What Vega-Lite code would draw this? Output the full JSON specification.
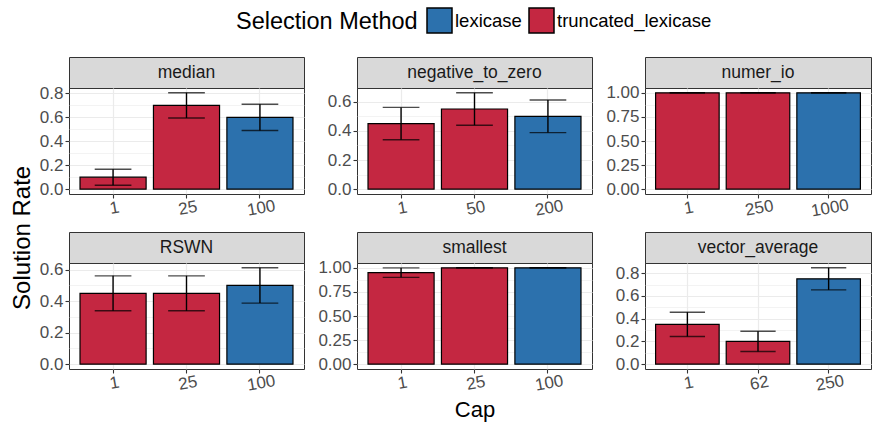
{
"$schema": "https://vega.github.io/schema/vega-lite/v6.json",
"padding": {"left": 10, "top": 7, "right": 1, "bottom": 2},
"title": {"text": "Solution Rate", "orient": "left", "anchor": "middle", "fontSize": 24, "fontWeight": "normal", "color": "black", "offset": 4, "dx": -24},
"datasets": {"d": [
{"problem":"median","cap":1,"method":"truncated_lexicase","rate":0.1,"low":0.033,"high":0.167},
{"problem":"median","cap":25,"method":"truncated_lexicase","rate":0.7,"low":0.595,"high":0.805},
{"problem":"median","cap":100,"method":"lexicase","rate":0.6,"low":0.49,"high":0.71},
{"problem":"negative_to_zero","cap":1,"method":"truncated_lexicase","rate":0.45,"low":0.339,"high":0.561},
{"problem":"negative_to_zero","cap":50,"method":"truncated_lexicase","rate":0.55,"low":0.439,"high":0.661},
{"problem":"negative_to_zero","cap":200,"method":"lexicase","rate":0.5,"low":0.388,"high":0.612},
{"problem":"numer_io","cap":1,"method":"truncated_lexicase","rate":1,"low":1,"high":1},
{"problem":"numer_io","cap":250,"method":"truncated_lexicase","rate":1,"low":1,"high":1},
{"problem":"numer_io","cap":1000,"method":"lexicase","rate":1,"low":1,"high":1},
{"problem":"RSWN","cap":1,"method":"truncated_lexicase","rate":0.45,"low":0.339,"high":0.561},
{"problem":"RSWN","cap":25,"method":"truncated_lexicase","rate":0.45,"low":0.339,"high":0.561},
{"problem":"RSWN","cap":100,"method":"lexicase","rate":0.5,"low":0.388,"high":0.612},
{"problem":"smallest","cap":1,"method":"truncated_lexicase","rate":0.95,"low":0.901,"high":0.999},
{"problem":"smallest","cap":25,"method":"truncated_lexicase","rate":1,"low":1,"high":1},
{"problem":"smallest","cap":100,"method":"lexicase","rate":1,"low":1,"high":1},
{"problem":"vector_average","cap":1,"method":"truncated_lexicase","rate":0.35,"low":0.243,"high":0.457},
{"problem":"vector_average","cap":62,"method":"truncated_lexicase","rate":0.2,"low":0.111,"high":0.289},
{"problem":"vector_average","cap":250,"method":"lexicase","rate":0.75,"low":0.653,"high":0.847}
]},
"spacing": 11,
"vconcat": [
{"hconcat": [
 {"spacing": 0, "bounds": "flush", "vconcat": [
  {"width": 235, "height": 31, "view": {"fill": "#d9d9d9", "stroke": "#333333"}, "data": {"name": "d"},
   "transform": [{"filter": "datum.problem == 'median'"}, {"aggregate": [{"op": "count", "as": "n"}], "groupby": ["problem"]}],
   "mark": {"type": "text", "fontSize": 17.5, "color": "#1a1a1a"}, "encoding": {"text": {"field": "problem"}}},
  {"width": 235, "height": 106, "data": {"name": "d"}, "transform": [{"filter": "datum.problem == 'median'"}],
   "resolve": {"axis": {"y": "independent"}},
   "encoding": {"x": {"field": "cap", "type": "ordinal", "scale": {"paddingInner": 0.1, "paddingOuter": 0.15}, "axis": {"title": null, "labelAngle": -10, "labelAlign": "center", "labelBaseline": "top", "labelOverlap": false, "grid": true, "bandPosition": 0.5}}},
   "layer": [
    {"mark": {"type": "bar", "stroke": "black", "strokeWidth": 1.2},
     "encoding": {"y": {"field": "rate", "type": "quantitative", "scale": {"domain": [-0.04025, 0.84525], "nice": false}, "axis": {"title": null, "values": [0,0.2,0.4,0.6,0.8], "format": ".1f"}},
      "y2": {"datum": 0},
      "color": {"field": "method", "type": "nominal", "title": "Selection Method", "scale": {"domain": ["lexicase", "truncated_lexicase"], "range": ["#2c71ad", "#c42741"]}}}},
    {"mark": {"type": "rule", "color": "black", "strokeWidth": 1.4}, "encoding": {"y": {"field": "low", "type": "quantitative", "scale": {"domain": [-0.04025, 0.84525], "nice": false}, "axis": {"title": null, "orient": "right", "values": [0.1,0.3,0.5,0.7], "labels": false, "ticks": false, "domain": false, "grid": true, "gridWidth": 0.6}}, "y2": {"field": "high"}}},
    {"mark": {"type": "tick", "color": "black", "thickness": 1.4, "size": 36.7}, "encoding": {"y": {"field": "low", "type": "quantitative", "scale": {"domain": [-0.04025, 0.84525], "nice": false}, "axis": null}}},
    {"mark": {"type": "tick", "color": "black", "thickness": 1.4, "size": 36.7}, "encoding": {"y": {"field": "high", "type": "quantitative", "scale": {"domain": [-0.04025, 0.84525], "nice": false}, "axis": null}}}
   ]}
 ]},
 {"spacing": 0, "bounds": "flush", "vconcat": [
  {"width": 235, "height": 31, "view": {"fill": "#d9d9d9", "stroke": "#333333"}, "data": {"name": "d"},
   "transform": [{"filter": "datum.problem == 'negative_to_zero'"}, {"aggregate": [{"op": "count", "as": "n"}], "groupby": ["problem"]}],
   "mark": {"type": "text", "fontSize": 17.5, "color": "#1a1a1a"}, "encoding": {"text": {"field": "problem"}}},
  {"width": 235, "height": 106, "data": {"name": "d"}, "transform": [{"filter": "datum.problem == 'negative_to_zero'"}],
   "resolve": {"axis": {"y": "independent"}},
   "encoding": {"x": {"field": "cap", "type": "ordinal", "scale": {"paddingInner": 0.1, "paddingOuter": 0.15}, "axis": {"title": null, "labelAngle": -10, "labelAlign": "center", "labelBaseline": "top", "labelOverlap": false, "grid": true, "bandPosition": 0.5}}},
   "layer": [
    {"mark": {"type": "bar", "stroke": "black", "strokeWidth": 1.2},
     "encoding": {"y": {"field": "rate", "type": "quantitative", "scale": {"domain": [-0.03305, 0.69405], "nice": false}, "axis": {"title": null, "minExtent": 40, "values": [0,0.2,0.4,0.6], "format": ".1f"}},
      "y2": {"datum": 0},
      "color": {"field": "method", "type": "nominal", "title": "Selection Method", "scale": {"domain": ["lexicase", "truncated_lexicase"], "range": ["#2c71ad", "#c42741"]}}}},
    {"mark": {"type": "rule", "color": "black", "strokeWidth": 1.4}, "encoding": {"y": {"field": "low", "type": "quantitative", "scale": {"domain": [-0.03305, 0.69405], "nice": false}, "axis": {"title": null, "orient": "right", "values": [0.1,0.3,0.5], "labels": false, "ticks": false, "domain": false, "grid": true, "gridWidth": 0.6}}, "y2": {"field": "high"}}},
    {"mark": {"type": "tick", "color": "black", "thickness": 1.4, "size": 36.7}, "encoding": {"y": {"field": "low", "type": "quantitative", "scale": {"domain": [-0.03305, 0.69405], "nice": false}, "axis": null}}},
    {"mark": {"type": "tick", "color": "black", "thickness": 1.4, "size": 36.7}, "encoding": {"y": {"field": "high", "type": "quantitative", "scale": {"domain": [-0.03305, 0.69405], "nice": false}, "axis": null}}}
   ]}
 ]},
 {"spacing": 0, "bounds": "flush", "vconcat": [
  {"width": 226, "height": 31, "view": {"fill": "#d9d9d9", "stroke": "#333333"}, "data": {"name": "d"},
   "transform": [{"filter": "datum.problem == 'numer_io'"}, {"aggregate": [{"op": "count", "as": "n"}], "groupby": ["problem"]}],
   "mark": {"type": "text", "fontSize": 17.5, "color": "#1a1a1a"}, "encoding": {"text": {"field": "problem"}}},
  {"width": 226, "height": 106, "data": {"name": "d"}, "transform": [{"filter": "datum.problem == 'numer_io'"}],
   "resolve": {"axis": {"y": "independent"}},
   "encoding": {"x": {"field": "cap", "type": "ordinal", "scale": {"paddingInner": 0.1, "paddingOuter": 0.15}, "axis": {"title": null, "labelAngle": -10, "labelAlign": "center", "labelBaseline": "top", "labelOverlap": false, "grid": true, "bandPosition": 0.5}}},
   "layer": [
    {"mark": {"type": "bar", "stroke": "black", "strokeWidth": 1.2},
     "encoding": {"y": {"field": "rate", "type": "quantitative", "scale": {"domain": [-0.05, 1.05], "nice": false}, "axis": {"title": null, "minExtent": 40, "values": [0,0.25,0.5,0.75,1], "format": ".2f"}},
      "y2": {"datum": 0},
      "color": {"field": "method", "type": "nominal", "title": "Selection Method", "scale": {"domain": ["lexicase", "truncated_lexicase"], "range": ["#2c71ad", "#c42741"]}}}},
    {"mark": {"type": "rule", "color": "black", "strokeWidth": 1.4}, "encoding": {"y": {"field": "low", "type": "quantitative", "scale": {"domain": [-0.05, 1.05], "nice": false}, "axis": {"title": null, "orient": "right", "values": [0.125,0.375,0.625,0.875], "labels": false, "ticks": false, "domain": false, "grid": true, "gridWidth": 0.6}}, "y2": {"field": "high"}}},
    {"mark": {"type": "tick", "color": "black", "thickness": 1.4, "size": 35.3}, "encoding": {"y": {"field": "low", "type": "quantitative", "scale": {"domain": [-0.05, 1.05], "nice": false}, "axis": null}}},
    {"mark": {"type": "tick", "color": "black", "thickness": 1.4, "size": 35.3}, "encoding": {"y": {"field": "high", "type": "quantitative", "scale": {"domain": [-0.05, 1.05], "nice": false}, "axis": null}}}
   ]}
 ]}
], "spacing": 11},
{"hconcat": [
 {"spacing": 0, "bounds": "flush", "vconcat": [
  {"width": 235, "height": 31, "view": {"fill": "#d9d9d9", "stroke": "#333333"}, "data": {"name": "d"},
   "transform": [{"filter": "datum.problem == 'RSWN'"}, {"aggregate": [{"op": "count", "as": "n"}], "groupby": ["problem"]}],
   "mark": {"type": "text", "fontSize": 17.5, "color": "#1a1a1a"}, "encoding": {"text": {"field": "problem"}}},
  {"width": 235, "height": 106, "data": {"name": "d"}, "transform": [{"filter": "datum.problem == 'RSWN'"}],
   "resolve": {"axis": {"y": "independent"}},
   "encoding": {"x": {"field": "cap", "type": "ordinal", "scale": {"paddingInner": 0.1, "paddingOuter": 0.15}, "axis": {"title": null, "labelAngle": -10, "labelAlign": "center", "labelBaseline": "top", "labelOverlap": false, "grid": true, "bandPosition": 0.5}}},
   "layer": [
    {"mark": {"type": "bar", "stroke": "black", "strokeWidth": 1.2},
     "encoding": {"y": {"field": "rate", "type": "quantitative", "scale": {"domain": [-0.0306, 0.6426], "nice": false}, "axis": {"title": null, "values": [0,0.2,0.4,0.6], "format": ".1f"}},
      "y2": {"datum": 0},
      "color": {"field": "method", "type": "nominal", "title": "Selection Method", "scale": {"domain": ["lexicase", "truncated_lexicase"], "range": ["#2c71ad", "#c42741"]}}}},
    {"mark": {"type": "rule", "color": "black", "strokeWidth": 1.4}, "encoding": {"y": {"field": "low", "type": "quantitative", "scale": {"domain": [-0.0306, 0.6426], "nice": false}, "axis": {"title": null, "orient": "right", "values": [0.1,0.3,0.5], "labels": false, "ticks": false, "domain": false, "grid": true, "gridWidth": 0.6}}, "y2": {"field": "high"}}},
    {"mark": {"type": "tick", "color": "black", "thickness": 1.4, "size": 36.7}, "encoding": {"y": {"field": "low", "type": "quantitative", "scale": {"domain": [-0.0306, 0.6426], "nice": false}, "axis": null}}},
    {"mark": {"type": "tick", "color": "black", "thickness": 1.4, "size": 36.7}, "encoding": {"y": {"field": "high", "type": "quantitative", "scale": {"domain": [-0.0306, 0.6426], "nice": false}, "axis": null}}}
   ]}
 ]},
 {"spacing": 0, "bounds": "flush", "vconcat": [
  {"width": 235, "height": 31, "view": {"fill": "#d9d9d9", "stroke": "#333333"}, "data": {"name": "d"},
   "transform": [{"filter": "datum.problem == 'smallest'"}, {"aggregate": [{"op": "count", "as": "n"}], "groupby": ["problem"]}],
   "mark": {"type": "text", "fontSize": 17.5, "color": "#1a1a1a"}, "encoding": {"text": {"field": "problem"}}},
  {"width": 235, "height": 106, "data": {"name": "d"}, "transform": [{"filter": "datum.problem == 'smallest'"}],
   "resolve": {"axis": {"y": "independent"}},
   "encoding": {"x": {"field": "cap", "type": "ordinal", "scale": {"paddingInner": 0.1, "paddingOuter": 0.15}, "axis": {"title": "Cap", "titleFontSize": 22, "titleFontWeight": "normal", "titleColor": "black", "titlePadding": 6, "labelAngle": -10, "labelAlign": "center", "labelBaseline": "top", "labelOverlap": false, "grid": true, "bandPosition": 0.5}}},
   "layer": [
    {"mark": {"type": "bar", "stroke": "black", "strokeWidth": 1.2},
     "encoding": {"y": {"field": "rate", "type": "quantitative", "scale": {"domain": [-0.05, 1.05], "nice": false}, "axis": {"title": null, "minExtent": 40, "values": [0,0.25,0.5,0.75,1], "format": ".2f"}},
      "y2": {"datum": 0},
      "color": {"field": "method", "type": "nominal", "title": "Selection Method", "scale": {"domain": ["lexicase", "truncated_lexicase"], "range": ["#2c71ad", "#c42741"]}}}},
    {"mark": {"type": "rule", "color": "black", "strokeWidth": 1.4}, "encoding": {"y": {"field": "low", "type": "quantitative", "scale": {"domain": [-0.05, 1.05], "nice": false}, "axis": {"title": null, "orient": "right", "values": [0.125,0.375,0.625,0.875], "labels": false, "ticks": false, "domain": false, "grid": true, "gridWidth": 0.6}}, "y2": {"field": "high"}}},
    {"mark": {"type": "tick", "color": "black", "thickness": 1.4, "size": 36.7}, "encoding": {"y": {"field": "low", "type": "quantitative", "scale": {"domain": [-0.05, 1.05], "nice": false}, "axis": null}}},
    {"mark": {"type": "tick", "color": "black", "thickness": 1.4, "size": 36.7}, "encoding": {"y": {"field": "high", "type": "quantitative", "scale": {"domain": [-0.05, 1.05], "nice": false}, "axis": null}}}
   ]}
 ]},
 {"spacing": 0, "bounds": "flush", "vconcat": [
  {"width": 226, "height": 31, "view": {"fill": "#d9d9d9", "stroke": "#333333"}, "data": {"name": "d"},
   "transform": [{"filter": "datum.problem == 'vector_average'"}, {"aggregate": [{"op": "count", "as": "n"}], "groupby": ["problem"]}],
   "mark": {"type": "text", "fontSize": 17.5, "color": "#1a1a1a"}, "encoding": {"text": {"field": "problem"}}},
  {"width": 226, "height": 106, "data": {"name": "d"}, "transform": [{"filter": "datum.problem == 'vector_average'"}],
   "resolve": {"axis": {"y": "independent"}},
   "encoding": {"x": {"field": "cap", "type": "ordinal", "scale": {"paddingInner": 0.1, "paddingOuter": 0.15}, "axis": {"title": null, "labelAngle": -10, "labelAlign": "center", "labelBaseline": "top", "labelOverlap": false, "grid": true, "bandPosition": 0.5}}},
   "layer": [
    {"mark": {"type": "bar", "stroke": "black", "strokeWidth": 1.2},
     "encoding": {"y": {"field": "rate", "type": "quantitative", "scale": {"domain": [-0.04235, 0.88935], "nice": false}, "axis": {"title": null, "minExtent": 40, "values": [0,0.2,0.4,0.6,0.8], "format": ".1f"}},
      "y2": {"datum": 0},
      "color": {"field": "method", "type": "nominal", "title": "Selection Method", "scale": {"domain": ["lexicase", "truncated_lexicase"], "range": ["#2c71ad", "#c42741"]}}}},
    {"mark": {"type": "rule", "color": "black", "strokeWidth": 1.4}, "encoding": {"y": {"field": "low", "type": "quantitative", "scale": {"domain": [-0.04235, 0.88935], "nice": false}, "axis": {"title": null, "orient": "right", "values": [0.1,0.3,0.5,0.7], "labels": false, "ticks": false, "domain": false, "grid": true, "gridWidth": 0.6}}, "y2": {"field": "high"}}},
    {"mark": {"type": "tick", "color": "black", "thickness": 1.4, "size": 35.3}, "encoding": {"y": {"field": "low", "type": "quantitative", "scale": {"domain": [-0.04235, 0.88935], "nice": false}, "axis": null}}},
    {"mark": {"type": "tick", "color": "black", "thickness": 1.4, "size": 35.3}, "encoding": {"y": {"field": "high", "type": "quantitative", "scale": {"domain": [-0.04235, 0.88935], "nice": false}, "axis": null}}}
   ]}
 ]}
], "spacing": 11}
],
"config": {
 "font": "Liberation Sans",
 "view": {"stroke": "#333333", "strokeWidth": 1},
 "axis": {"domain": false, "tickColor": "#333333", "tickWidth": 1.1, "tickSize": 4, "labelColor": "#4d4d4d", "labelFontSize": 17, "labelPadding": 2, "labelOverlap": false, "gridColor": "#ebebeb", "gridWidth": 1.2},
 "legend": {"orient": "none", "legendX": 167, "legendY": -50, "direction": "horizontal", "titleOrient": "left", "titleAnchor": "middle", "titleBaseline": "middle", "titleFontSize": 23.5, "titleLimit": 400, "labelLimit": 400, "titleFontWeight": "normal", "titleColor": "black", "labelFontSize": 18.5, "labelColor": "black", "symbolType": "square", "symbolSize": 625, "symbolStrokeColor": "black", "symbolStrokeWidth": 1.5, "symbolOpacity": 1, "labelOffset": 2, "columnPadding": 4, "titlePadding": 8}
}
}
